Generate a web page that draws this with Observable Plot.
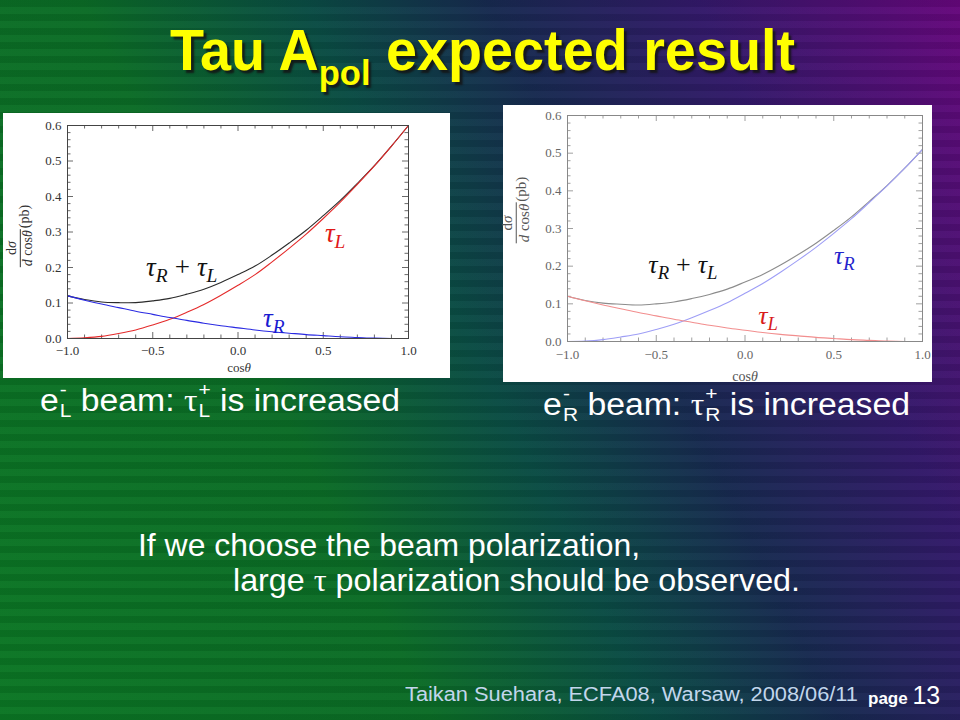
<!DOCTYPE html>
<html><head><meta charset="utf-8">
<script src="https://cdn.jsdelivr.net/npm/d3@7"></script>
<script src="https://cdn.jsdelivr.net/npm/@observablehq/plot@0.6"></script>
<style>
body{margin:0;background:#000}
#slide{position:relative;width:960px;height:720px;overflow:hidden;
 background:linear-gradient(64deg,#0b7624 0%,#0b6c26 33%,#0a4c44 50%,#172a50 64%,#33196a 80%,#66077c 100%);
 font-family:"Liberation Sans",Arial,sans-serif;}
#stripes{position:absolute;left:0;top:0;width:960px;height:720px;
 background:repeating-linear-gradient(180deg,rgba(0,0,0,0.07) 0 7px,rgba(255,255,255,0.02) 7px 14px);}
.t{position:absolute;white-space:nowrap;color:#fff;line-height:1;transform-origin:0 0}
.box{position:absolute}
.ylab{position:absolute;transform:translate(-50%,-50%) rotate(-90deg);font-family:"Liberation Serif","DejaVu Serif",serif;white-space:nowrap;display:flex;align-items:center}
.frac{display:inline-flex;flex-direction:column;align-items:center;line-height:1.05}
.den{padding:0 1px}
.pb{position:relative;top:0.35em;margin-left:1px}
.xlab{position:absolute;transform:translate(-50%,-50%);font-family:"Liberation Serif","DejaVu Serif",serif;white-space:nowrap}
.ss{display:inline-block;font-size:0.62em;line-height:1.1;vertical-align:-0.32em;text-align:left;margin-left:1px}
.tau{font-family:"Liberation Serif","DejaVu Serif",serif}
</style></head><body>
<div id="slide">
<div id="stripes"></div>
<div class="t fit" data-w="625" id="title" style="left:170px;top:21px;font-size:58px;font-weight:bold;color:#ffff00;text-shadow:3px 3px 2px rgba(20,20,20,0.85);">Tau A<span style="font-size:0.62em;position:relative;top:0.42em">pol</span> expected result</div>
<div class="box" id="leftPlot" style="left:3px;top:113px"></div>
<div class="box" id="rightPlot" style="left:503px;top:105px"></div>
<div class="ylab" style="left:20px;top:236px;font-size:14px;color:#333"><span class="frac"><span>d<i>σ</i></span><span class="den" style="border-top:1px solid #333"><i>d</i> cos<i>θ</i></span></span><span class="pb">(pb)</span></div>
<div class="ylab" style="left:516px;top:210px;font-size:15px;color:#555"><span class="frac"><span>d<i>σ</i></span><span class="den" style="border-top:1px solid #555"><i>d</i> cos<i>θ</i></span></span><span class="pb">(pb)</span></div>
<div class="xlab" style="left:239px;top:368px;font-size:13px;color:#333">cos<i>θ</i></div>
<div class="xlab" style="left:745px;top:377px;font-size:14px;color:#555">cos<i>θ</i></div>
<div class="t fit" data-w="360" style="left:40px;top:379px;font-size:31px">e<span class="ss">-<br>L</span> beam: <span class="tau">τ</span><span class="ss">+<br>L</span> is increased</div>
<div class="t fit" data-w="367" style="left:543px;top:383px;font-size:31px">e<span class="ss">-<br>R</span> beam: <span class="tau">τ</span><span class="ss">+<br>R</span> is increased</div>
<div class="t fit" data-w="502" style="left:138px;top:529px;font-size:32px">If we choose the beam polarization,</div>
<div class="t fit" data-w="567" style="left:233px;top:564px;font-size:32px">large <span class="tau">τ</span> polarization should be observed.</div>
<div class="t fit" data-w="453" style="left:405px;top:684px;font-size:20px;color:#c2d6ec">Taikan Suehara, ECFA08, Warsaw, 2008/06/11</div>
<div class="t" style="left:868px;top:683px;font-size:17px;font-weight:bold">page <span style="font-size:25px;font-weight:normal">13</span></div>
</div>
<script>
// ---- data ----
const cosTheta = [-1.0,-0.9,-0.8,-0.7,-0.6,-0.5,-0.4,-0.3,-0.2,-0.1,0.0,0.1,0.2,0.3,0.4,0.5,0.6,0.7,0.8,0.9,1.0];
// left panel (e-_L beam)
const leftTauL  = [0,0.002,0.006,0.014,0.024,0.038,0.054,0.074,0.096,0.122,0.150,0.180,0.216,0.254,0.294,0.338,0.384,0.434,0.486,0.542,0.600];
const leftTauR  = [0.120,0.108,0.097,0.087,0.077,0.068,0.059,0.051,0.043,0.036,0.030,0.024,0.019,0.015,0.011,0.008,0.005,0.003,0.001,0,0];
const leftTotal = [0.120,0.110,0.103,0.101,0.101,0.106,0.113,0.125,0.139,0.158,0.180,0.204,0.235,0.269,0.305,0.346,0.389,0.437,0.487,0.542,0.600];
// right panel (e-_R beam)
const rightTauR  = [0,0.001,0.005,0.012,0.020,0.032,0.046,0.063,0.082,0.103,0.128,0.154,0.184,0.216,0.250,0.287,0.326,0.369,0.413,0.460,0.510];
const rightTauL  = [0.120,0.108,0.097,0.087,0.077,0.068,0.059,0.051,0.043,0.036,0.030,0.024,0.019,0.015,0.011,0.008,0.005,0.003,0.001,0,0];
const rightTotal = [0.120,0.109,0.102,0.099,0.097,0.100,0.105,0.114,0.125,0.139,0.158,0.178,0.203,0.231,0.261,0.295,0.331,0.372,0.414,0.460,0.510];
// ticks
const xMajorTicks = [-1,-0.5,0,0.5,1];
const xTickLabels = ["\u22121.0","\u22120.5","0.0","0.5","1.0"];
const xMinorTicks = [-0.9,-0.8,-0.7,-0.6,-0.4,-0.3,-0.2,-0.1,0.1,0.2,0.3,0.4,0.6,0.7,0.8,0.9];
const yMajorTicks = [0,0.1,0.2,0.3,0.4,0.5,0.6];
const yTickLabels = ["0.0","0.1","0.2","0.3","0.4","0.5","0.6"];
const yMinorTicks = [0.02,0.04,0.06,0.08,0.12,0.14,0.16,0.18,0.22,0.24,0.26,0.28,0.32,0.34,0.36,0.38,0.42,0.44,0.46,0.48,0.52,0.54,0.56,0.58];
// annotations
const leftLabelText = ["τ_R + τ_L","τ_L","τ_R"];
const leftLabelX = [-0.33,0.57,0.21];
const leftLabelY = [0.20,0.295,0.058];
const rightLabelText = ["τ_R + τ_L","τ_R","τ_L"];
const rightLabelX = [-0.35,0.56,0.13];
const rightLabelY = [0.205,0.228,0.068];

function rows(xs, ys){ return xs.map((x,i)=>({x, y: ys[i]})); }

function mathify(svg){
  d3.select(svg).selectAll('g[aria-label="text"] text').each(function(){
    const s = this.textContent;
    const el = d3.select(this); el.text(null);
    const parts = s.split(/(τ_[RL])/).filter(p=>p.length);
    let pending = 0, gap = 0;
    for (const p of parts){
      if (p.startsWith("τ_")){
        el.append("tspan").attr("dy", pending ? -pending : null).attr("dx", gap || null).text("τ");
        el.append("tspan").attr("font-size","0.72em").attr("dy",6).text(p[2]);
        pending = 6; gap = 0;
      } else {
        el.append("tspan").attr("dy", pending ? -pending : null).attr("font-style","normal").attr("dx",7).text(p.trim());
        pending = 0; gap = 7;
      }
    }
  });
}

function chart(cfg){
  const {width,height,ml,mr,mt,mb,series,labels,fontSize,labelSize,padX,frameColor,textColor} = cfg;
  const fw = width-ml-mr, fh = height-mt-mb;
  const dx = px => px*2/fw, dy = px => px*0.6/fh;
  const maj = 6, min = 3.5;
  const tick = (vals, len, axis) => axis === "x"
    ? [Plot.ruleX(vals,{x:d=>d,y1:0,y2:dy(len),stroke:frameColor,strokeWidth:0.8}),
       Plot.ruleX(vals,{x:d=>d,y1:0.6,y2:0.6-dy(len),stroke:frameColor,strokeWidth:0.8})]
    : [Plot.ruleY(vals,{y:d=>d,x1:-1,x2:-1+dx(len),stroke:frameColor,strokeWidth:0.8}),
       Plot.ruleY(vals,{y:d=>d,x1:1,x2:1-dx(len),stroke:frameColor,strokeWidth:0.8})];
  const svg = Plot.plot({
    width, height, marginLeft: ml, marginRight: mr, marginTop: mt, marginBottom: mb,
    style:{background:"#ffffff", fontFamily:'"Liberation Serif","DejaVu Serif",serif', fontSize: fontSize+"px", color:textColor, overflow:"visible"},
    x:{domain:[-1,1]},
    y:{domain:[0,0.6]},
    marks:[
      Plot.axisX({ticks:xMajorTicks, tickSize:0, tickPadding:padX, tickFormat:d=>xTickLabels[xMajorTicks.indexOf(d)], label:null, fill:textColor}),
      Plot.axisY({ticks:yMajorTicks, tickSize:0, tickPadding:6, tickFormat:d=>yTickLabels[yMajorTicks.indexOf(d)], label:null, fill:textColor}),
      ...tick(xMajorTicks.slice(1,-1), maj, "x"),
      ...tick(xMinorTicks, min, "x"),
      ...tick(yMajorTicks.slice(1,-1), maj, "y"),
      ...tick(yMinorTicks, min, "y"),
      ...series.map(s => Plot.line(rows(cosTheta, s.values), {x:"x", y:"y", stroke:s.color, strokeWidth:1.1, curve:"catmull-rom"})),
      Plot.frame({stroke:frameColor, strokeWidth:1}),
      Plot.text(labels.text.map((t,i)=>({t, x:labels.x[i], y:labels.y[i], c:labels.color[i]})),
        {x:"x", y:"y", text:"t", fill:"c", fontSize:labelSize, fontStyle:"italic", fontFamily:'"Liberation Serif","DejaVu Serif",serif'})
    ]
  });
  mathify(svg);
  return svg;
}

document.getElementById("leftPlot").appendChild(chart({
  width:447, height:265, ml:64, mr:42, mt:12, mb:40, fontSize:13, labelSize:27, padX:7, frameColor:"#444", textColor:"#333",
  series:[
    {values:leftTotal, color:"#2b2b2b"},
    {values:leftTauL, color:"#e42a2a"},
    {values:leftTauR, color:"#2a2ae2"}
  ],
  labels:{text:leftLabelText, x:leftLabelX, y:leftLabelY, color:["#111","#e01818","#1a1ad0"]}
}));
document.getElementById("rightPlot").appendChild(chart({
  width:429, height:277, ml:64, mr:10, mt:10, mb:41, fontSize:13, labelSize:26, padX:8, frameColor:"#888", textColor:"#666",
  series:[
    {values:rightTotal, color:"#8c8c8c"},
    {values:rightTauR, color:"#9e9ef6"},
    {values:rightTauL, color:"#f28e8e"}
  ],
  labels:{text:rightLabelText, x:rightLabelX, y:rightLabelY, color:["#111","#2424cc","#d81c1c"]}
}));

// stretch slide texts horizontally to their measured widths in the reference
document.querySelectorAll(".fit").forEach(el => {
  const w = el.getBoundingClientRect().width;
  el.style.transform = `scaleX(${(+el.dataset.w / w).toFixed(4)})`;
});
</script>
</body></html>
